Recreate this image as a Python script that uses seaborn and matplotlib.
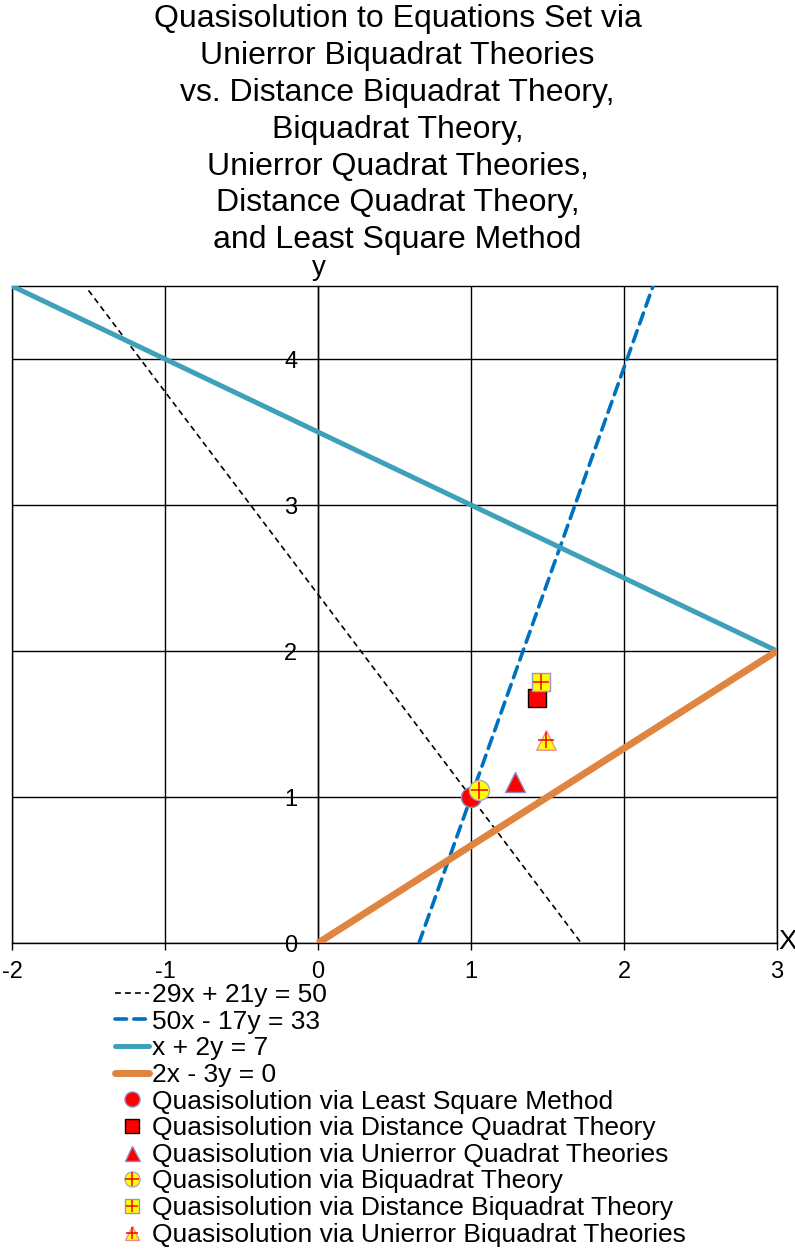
import matplotlib
matplotlib.use("Agg")
import matplotlib.pyplot as plt
import seaborn as sns
from matplotlib.lines import Line2D

# --- data ---
title_lines = [
    "Quasisolution to Equations Set via",
    "Unierror Biquadrat Theories",
    "vs. Distance Biquadrat Theory,",
    "Biquadrat Theory,",
    "Unierror Quadrat Theories,",
    "Distance Quadrat Theory,",
    "and Least Square Method",
]

line_labels = ["29x + 21y = 50", "50x - 17y = 33", "x + 2y = 7", "2x - 3y = 0"]
line_x = [[-1.5, 1.72], [0.66, 2.19], [-2.0, 3.0], [0.0, 3.0]]
line_y = [[4.47, 0.0], [0.0, 4.5], [4.5, 2.0], [0.0, 2.0]]

point_labels = [
    "Quasisolution via Least Square Method",
    "Quasisolution via Distance Quadrat Theory",
    "Quasisolution via Unierror Quadrat Theories",
    "Quasisolution via Biquadrat Theory",
    "Quasisolution via Distance Biquadrat Theory",
    "Quasisolution via Unierror Biquadrat Theories",
]
point_x = [1.00, 1.43, 1.29, 1.05, 1.46, 1.49]
point_y = [1.00, 1.68, 1.10, 1.05, 1.79, 1.39]

x_ticks = [-2, -1, 0, 1, 2, 3]
y_ticks = [0, 1, 2, 3, 4]

# --- styles ---
line_styles = [
    dict(color="black", lw=1.2, ls=(0, (3.5, 2.5)), cap="butt"),
    dict(color="#0070C0", lw=2.6, ls=(0, (3.2, 2.0)), cap="round"),
    dict(color="#3FA0BA", lw=3.6, ls="-", cap="butt"),
    dict(color="#DF8540", lw=5.0, ls="-", cap="butt"),
]
point_styles = [
    dict(marker="o", size=14.4, face="red", edge="#8C8CC8", cross=False),
    dict(marker="s", size=13.5, face="red", edge="black", cross=False),
    dict(marker="^", size=14.4, face="red", edge="#8C8CC8", cross=False),
    dict(marker="o", size=14.4, face="yellow", edge="#A8A8C8", cross=True),
    dict(marker="s", size=13.5, face="yellow", edge="#A090C8", cross=True),
    dict(marker="^", size=14.0, face="yellow", edge="#E89090", cross=True),
]

sns.set_theme(style="white")
plt.rcParams["font.family"] = ["Liberation Sans", "DejaVu Sans"]
plt.rcParams["text.color"] = "black"
plt.rcParams["xtick.color"] = "black"
plt.rcParams["ytick.color"] = "black"

fig = plt.figure(figsize=(7.95, 12.5), dpi=100)
W, H = 795, 1250
ax = fig.add_axes([12 / W, 1 - 943 / H, 765 / W, 657 / H])

# lines
for lab, xs, ys, st in zip(line_labels, line_x, line_y, line_styles):
    sns.lineplot(x=xs, y=ys, ax=ax, color=st["color"], lw=st["lw"],
                 linestyle=st["ls"], sort=False, estimator=None,
                 legend=False, solid_capstyle=st["cap"],
                 dash_capstyle=st["cap"], zorder=3)

# points
for px, py, st in zip(point_x, point_y, point_styles):
    sns.scatterplot(x=[px], y=[py], ax=ax, marker=st["marker"],
                    s=st["size"] ** 2, color=st["face"],
                    edgecolor=st["edge"], linewidth=1.0, zorder=5,
                    legend=False)
    if st["cross"]:
        sns.scatterplot(x=[px], y=[py], ax=ax, marker="+",
                        s=(st["size"] * 0.85) ** 2, color="red",
                        linewidth=1.1, zorder=6, legend=False)

ax.set_xlim(-2, 3)
ax.set_ylim(0, 4.5)
ax.set_xticks(x_ticks)
ax.set_yticks(y_ticks)
ax.set_xticklabels([str(v) for v in x_ticks])
ax.set_yticklabels([str(v) for v in y_ticks])
ax.grid(True, color="black", lw=1.0)
ax.set_axisbelow(True)

for sp in ax.spines.values():
    sp.set_color("black")
    sp.set_linewidth(1.0)
ax.spines["left"].set_position(("data", 0))
ax.axvline(-2, color="black", lw=1.0, clip_on=False, zorder=1)

ax.tick_params(axis="x", direction="out", length=5, width=1,
               color="black", pad=8, labelsize=17, bottom=True)
ax.tick_params(axis="y", length=0, pad=15, labelsize=17)

ax.set_xlabel("")
ax.set_ylabel("")

# axis names
ax.annotate("X", xy=(3, 0), xytext=(1, 1), textcoords="offset points",
            ha="left", va="center", fontsize=20, annotation_clip=False)
ax.annotate("y", xy=(0, 4.5), xytext=(1, 8), textcoords="offset points",
            ha="center", va="baseline", fontsize=20, annotation_clip=False)

# title
fig.text(0.5, 1 - 4 / H, "\n".join(title_lines), ha="center", va="top",
         fontsize=23, linespacing=1.3)

# legend
handles = []
for st in line_styles:
    handles.append(Line2D([], [], color=st["color"], lw=st["lw"],
                          linestyle=st["ls"], solid_capstyle="round",
                          dash_capstyle=st["cap"]))
for st in point_styles:
    base = Line2D([], [], ls="none", marker=st["marker"],
                  markersize=st["size"] * 0.75, markerfacecolor=st["face"],
                  markeredgecolor=st["edge"], markeredgewidth=1.0)
    if st["cross"]:
        cross = Line2D([], [], ls="none", marker="+",
                       markersize=st["size"] * 0.65, color="red",
                       markeredgewidth=1.1)
        handles.append((base, cross))
    else:
        handles.append(base)

fig.legend(handles, line_labels + point_labels, loc="upper left",
           bbox_to_anchor=(115 / W, 1 - 983 / H), frameon=False,
           fontsize=19, handlelength=1.3, handletextpad=0.12,
           labelspacing=0.1, borderpad=0, borderaxespad=0)

fig.savefig("out.png", dpi=100)
